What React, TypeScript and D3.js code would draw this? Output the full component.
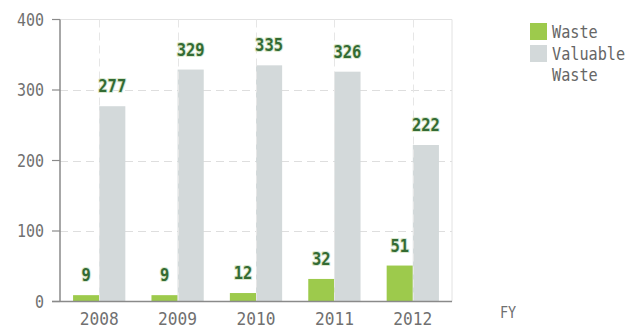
import React from "react";
import * as d3 from "d3";

const years = ["2008", "2009", "2010", "2011", "2012"];
const waste = [9, 9, 12, 32, 51];
const valuable = [277, 329, 335, 326, 222];
const yTicks = [0, 100, 200, 300, 400];
const seriesKeys = ["waste", "valuable"];
const seriesColors = ["#9dca4c", "#d3d9da"];
const legendLines = ["Waste", "Valuable", "Waste"];

const W = 632;
const H = 329;
const left = 60;
const right = 452;
const top = 19.5;
const bottom = 301.5;
const FONT = "'DejaVu Sans Mono', 'Liberation Mono', monospace";

function SText(props: {
  x: number;
  y: number;
  sx?: number;
  sy?: number;
  anchor?: string;
  baseline?: string;
  size: number;
  fill: string;
  weight?: string;
  halo?: boolean;
  children: React.ReactNode;
}) {
  const { x, y, sx = 1, sy = 1, anchor = "start", baseline, size, fill, weight, halo, children } = props;
  return (
    <text
      transform={`translate(${x},${y}) scale(${sx},${sy})`}
      textAnchor={anchor}
      dominantBaseline={baseline}
      fontSize={size}
      fontWeight={weight}
      fill={fill}
      stroke={halo ? "#dbe8cf" : undefined}
      strokeWidth={halo ? 2.2 : undefined}
      strokeLinejoin="round"
      paintOrder="stroke"
    >
      {children}
    </text>
  );
}

export default function App() {
  const x = d3.scaleBand<string>().domain(years).range([left, right]);
  const inner = d3
    .scaleBand<string>()
    .domain(seriesKeys)
    .range([0, x.bandwidth()])
    .paddingInner(0)
    .paddingOuter(0.5);
  const y = d3.scaleLinear().domain([0, 400]).range([bottom, top]);
  const data = [waste, valuable];

  return (
    <svg
      width={W}
      height={H}
      style={{ position: "absolute", left: 0, top: 0, background: "#fff" }}
      fontFamily={FONT}
    >
      <line x1={left} x2={right} y1={top} y2={top} stroke="#e2e2e2" />
      <line x1={right} x2={right} y1={top} y2={bottom} stroke="#e2e2e2" />
      {yTicks
        .filter((t) => t > 0 && t < 400)
        .map((t) => (
          <line
            key={"hg" + t}
            x1={left}
            x2={right}
            y1={Math.round(y(t)) + 0.5}
            y2={Math.round(y(t)) + 0.5}
            stroke="#dedede"
            strokeDasharray="8,5"
          />
        ))}
      {years.map((yr, i) =>
        seriesKeys.map((k, s) => {
          const v = data[s][i];
          const bx = (x(yr) as number) + (inner(k) as number);
          return (
            <rect
              key={yr + k}
              x={bx}
              y={y(v)}
              width={inner.bandwidth()}
              height={bottom - y(v)}
              fill={seriesColors[s]}
            />
          );
        })
      )}
      {years.map((yr) => {
        const cx = Math.round((x(yr) as number) + x.bandwidth() / 2) + 0.5;
        return (
          <line
            key={"vg" + yr}
            x1={cx}
            x2={cx}
            y1={top}
            y2={bottom}
            stroke="#e6e6e6"
            strokeDasharray="8,5"
          />
        );
      })}
      {years.map((yr, i) =>
        seriesKeys.map((k, s) => {
          const v = data[s][i];
          const cx = (x(yr) as number) + (inner(k) as number) + inner.bandwidth() / 2;
          return (
            <SText
              key={"lbl" + yr + k}
              x={cx}
              y={y(v) - 14}
              sx={0.86}
              anchor="middle"
              size={18}
              weight="bold"
              fill="#336b33"
              halo
            >
              {v}
            </SText>
          );
        })
      )}
      <line x1={left} x2={left} y1={top} y2={bottom} stroke="#8a8a8a" strokeWidth={1.5} />
      <line x1={left - 8} x2={right} y1={bottom} y2={bottom} stroke="#8a8a8a" strokeWidth={1.5} />
      {yTicks.map((t) => (
        <g key={"yt" + t}>
          <line x1={left - 8} x2={left} y1={y(t)} y2={y(t)} stroke="#8a8a8a" strokeWidth={1.2} />
          <SText x={44} y={y(t) + 6} sx={0.88} anchor="end" size={17} fill="#707070">
            {t}
          </SText>
        </g>
      ))}
      {years.map((yr) => (
        <SText
          key={"xt" + yr}
          x={(x(yr) as number) + x.bandwidth() / 2}
          y={325}
          sx={0.9}
          anchor="middle"
          size={18}
          fill="#707070"
        >
          {yr}
        </SText>
      ))}
      <SText x={500} y={318} sx={0.9} size={15} fill="#707070">
        FY
      </SText>
      {legendLines.slice(0, 2).map((n, s) => (
        <rect
          key={"lg" + s}
          x={530}
          y={23 + s * 22}
          width={17}
          height={17}
          fill={seriesColors[s]}
        />
      ))}
      {legendLines.map((n, i) => (
        <SText key={"lt" + i} x={552} y={38 + i * 21.5} sx={0.95} sy={1.05} size={16} fill="#666">
          {n}
        </SText>
      ))}
    </svg>
  );
}
